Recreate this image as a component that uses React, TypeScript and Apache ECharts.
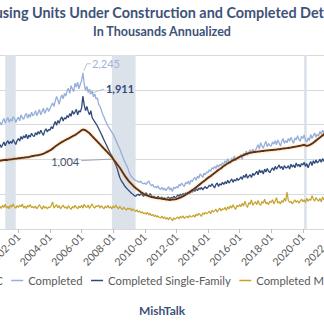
import React, { useEffect, useRef } from 'react';
import * as echarts from 'echarts';

// Monthly categories 2000-01 .. 2022-12
const categories: string[] = [];
for (let y = 2000; y <= 2022; y++) {
  for (let m = 1; m <= 12; m++) categories.push(`${y}-${m < 10 ? '0' + m : m}`);
}

// Values in thousands, annualized, monthly from 2000-01
const underConstruction = [
  960, 962, 965, 963, 968, 970, 972, 975, 973, 978, 980, 985,
  988, 990, 992, 995, 993, 998, 1000, 1003, 1005, 1008, 1010, 1012,
  1015, 1018, 1020, 1022, 1025, 1028, 1030, 1032, 1035, 1040, 1045, 1050,
  1052, 1055, 1058, 1060, 1065, 1070, 1075, 1082, 1090, 1100, 1110, 1120,
  1130, 1140, 1155, 1170, 1185, 1200, 1212, 1225, 1238, 1250, 1260, 1270,
  1280, 1290, 1300, 1310, 1320, 1330, 1340, 1350, 1362, 1375, 1390, 1405,
  1420, 1428, 1425, 1418, 1405, 1390, 1375, 1355, 1335, 1315, 1295, 1275,
  1255, 1235, 1215, 1195, 1175, 1155, 1135, 1115, 1095, 1075, 1055, 1035,
  1004, 980, 955, 930, 905, 880, 850, 820, 790, 760, 735, 710,
  685, 665, 645, 625, 605, 590, 575, 560, 545, 530, 518, 505,
  495, 488, 480, 472, 465, 460, 455, 452, 448, 445, 442, 440,
  438, 435, 432, 430, 425, 422, 420, 418, 420, 422, 425, 428,
  432, 438, 445, 452, 460, 470, 480, 492, 505, 518, 530, 545,
  558, 570, 585, 600, 615, 630, 645, 660, 675, 690, 705, 720,
  735, 748, 760, 775, 790, 805, 820, 835, 850, 862, 875, 890,
  905, 918, 930, 942, 955, 965, 975, 985, 995, 1005, 1015, 1025,
  1035, 1045, 1055, 1062, 1070, 1078, 1085, 1090, 1095, 1100, 1103, 1106,
  1108, 1110, 1112, 1115, 1118, 1120, 1122, 1125, 1127, 1128, 1130, 1132,
  1134, 1136, 1138, 1140, 1142, 1145, 1147, 1150, 1152, 1155, 1158, 1160,
  1162, 1165, 1168, 1170, 1175, 1178, 1180, 1185, 1188, 1192, 1195, 1200,
  1205, 1210, 1200, 1195, 1198, 1205, 1215, 1225, 1240, 1255, 1270, 1285,
  1300, 1315, 1330, 1345, 1360, 1375,
];

const completed = [
  1580, 1612, 1545, 1570, 1598, 1552, 1530, 1575, 1560, 1510, 1538, 1495,
  1545, 1590, 1520, 1568, 1602, 1535, 1580, 1548, 1612, 1590, 1530, 1575,
  1610, 1555, 1640, 1598, 1575, 1630, 1662, 1590, 1648, 1605, 1680, 1625,
  1650, 1700, 1628, 1672, 1715, 1640, 1690, 1735, 1660, 1705, 1742, 1688,
  1730, 1775, 1812, 1760, 1840, 1905, 1850, 1790, 1880, 1925, 1870, 1950,
  1910, 1985, 2020, 1950, 2060, 2010, 1975, 2095, 2040, 2110, 2015, 2080,
  2130, 2245, 2080, 1990, 2050, 1960, 2010, 1940, 1985, 1900, 1940, 1870,
  1880, 1790, 1760, 1705, 1650, 1610, 1560, 1520, 1480, 1450, 1420, 1390,
  1360, 1320, 1280, 1230, 1190, 1150, 1100, 1050, 1000, 960, 920, 880,
  820, 780, 750, 730, 710, 700, 690, 680, 670, 690, 660, 650,
  660, 640, 670, 690, 650, 620, 640, 600, 610, 590, 620, 580,
  570, 600, 560, 590, 550, 575, 610, 560, 590, 540, 600, 580,
  610, 590, 640, 620, 660, 630, 610, 670, 650, 690, 640, 700,
  680, 720, 740, 700, 760, 730, 790, 770, 740, 800, 780, 820,
  810, 850, 830, 880, 860, 900, 870, 920, 890, 930, 910, 950,
  930, 980, 950, 1010, 960, 940, 1020, 990, 1050, 980, 1010, 1040,
  1020, 1070, 1000, 1090, 1050, 1120, 1060, 1100, 1140, 1080, 1150, 1110,
  1130, 1170, 1210, 1150, 1240, 1190, 1160, 1220, 1260, 1180, 1230, 1200,
  1190, 1250, 1220, 1270, 1210, 1280, 1240, 1190, 1260, 1300, 1230, 1270,
  1240, 1300, 1260, 1320, 1270, 1230, 1310, 1280, 1340, 1290, 1260, 1330,
  1300, 1350, 1280, 1250, 1310, 1270, 1360, 1300, 1340, 1380, 1320, 1360,
  1340, 1400, 1360, 1420, 1380, 1440,
];

const completedSingleFamily = [
  1240, 1275, 1220, 1260, 1230, 1210, 1250, 1195, 1230, 1180, 1215, 1170,
  1210, 1250, 1195, 1240, 1270, 1220, 1260, 1230, 1285, 1250, 1215, 1270,
  1300, 1265, 1330, 1290, 1340, 1310, 1360, 1295, 1350, 1320, 1375, 1340,
  1330, 1385, 1350, 1400, 1365, 1420, 1380, 1345, 1410, 1440, 1395, 1430,
  1420, 1470, 1440, 1500, 1545, 1490, 1560, 1520, 1580, 1610, 1550, 1600,
  1580, 1630, 1600, 1660, 1620, 1700, 1650, 1680, 1720, 1640, 1700, 1680,
  1740, 1911, 1780, 1700, 1760, 1690, 1640, 1700, 1600, 1570, 1540, 1510,
  1480, 1440, 1400, 1360, 1320, 1280, 1240, 1200, 1160, 1120, 1080, 1050,
  1010, 960, 920, 870, 800, 740, 700, 670, 640, 610, 590, 570,
  550, 530, 510, 500, 480, 470, 490, 500, 480, 510, 490, 470,
  500, 520, 490, 470, 510, 480, 460, 470, 450, 440, 470, 450,
  440, 460, 430, 450, 420, 445, 460, 430, 455, 440, 470, 450,
  460, 490, 470, 500, 480, 510, 490, 520, 500, 530, 510, 540,
  530, 560, 540, 580, 550, 590, 570, 600, 560, 590, 610, 580,
  600, 630, 610, 650, 620, 590, 640, 660, 610, 650, 630, 670,
  640, 680, 650, 700, 660, 690, 720, 670, 710, 690, 730, 700,
  720, 750, 710, 770, 740, 790, 730, 760, 780, 740, 800, 770,
  800, 830, 780, 850, 810, 840, 790, 860, 820, 870, 830, 810,
  850, 880, 840, 900, 860, 890, 920, 870, 900, 850, 910, 880,
  880, 910, 860, 930, 890, 920, 880, 950, 900, 930, 890, 940,
  920, 960, 900, 940, 880, 930, 970, 910, 980, 940, 990, 950,
  970, 1000, 960, 1010, 980, 950,
];

const completedMultiFamily = [
  330, 300, 345, 310, 290, 335, 320, 280, 340, 305, 325, 295,
  340, 310, 355, 300, 325, 290, 345, 315, 360, 320, 300, 335,
  310, 345, 320, 360, 300, 330, 295, 340, 315, 350, 305, 325,
  300, 330, 290, 320, 350, 310, 285, 335, 300, 320, 290, 315,
  310, 340, 390, 300, 325, 350, 305, 335, 290, 320, 345, 300,
  320, 290, 335, 305, 280, 325, 300, 340, 310, 290, 330, 305,
  340, 300, 355, 320, 310, 345, 295, 330, 360, 315, 300, 335,
  320, 345, 300, 335, 310, 290, 330, 305, 340, 300, 320, 290,
  330, 305, 345, 310, 290, 325, 300, 280, 315, 290, 270, 300,
  285, 300, 260, 290, 270, 250, 275, 240, 260, 230, 250, 220,
  235, 210, 240, 200, 225, 190, 210, 180, 200, 170, 190, 165,
  160, 185, 150, 175, 140, 165, 130, 170, 150, 120, 160, 140,
  155, 175, 145, 180, 160, 190, 150, 170, 185, 160, 195, 175,
  180, 200, 170, 215, 190, 225, 205, 180, 230, 210, 240, 220,
  235, 255, 220, 270, 245, 260, 285, 240, 275, 300, 260, 290,
  280, 310, 270, 320, 290, 335, 300, 350, 310, 280, 340, 320,
  350, 320, 370, 330, 400, 345, 310, 380, 355, 420, 340, 370,
  390, 350, 410, 360, 340, 395, 370, 430, 360, 385, 350, 400,
  380, 420, 360, 400, 450, 370, 395, 360, 410, 380, 440, 400,
  530, 410, 380, 400, 360, 390, 420, 380, 410, 370, 400, 430,
  390, 420, 380, 440, 400, 430, 410, 480, 430, 400, 450, 420,
  400, 440, 390, 460, 420, 410,
];

const recessions: [string, string][] = [
  ['2001-03', '2001-11'],
  ['2007-12', '2009-06'],
  ['2020-02', '2020-04'],
];

const seriesNames = ['Total UC', 'Completed', 'Completed Single-Family', 'Completed Multi-Family'];
const titleText = 'Housing Units Under Construction and Completed Detail';
const subtitleText = 'In Thousands Annualized';
const sourceText = 'MishTalk';

const COLORS = {
  uc: '#5A3116',
  completed: '#95AEDA',
  sf: '#2F4A7A',
  mf: '#C6A22C',
  title: '#3E5279',
  axis: '#595959',
  grid: '#D9D9D9',
  shade: '#DCE2EA',
};

const FONT = 'Lato, "Open Sans", sans-serif';

const showLabel = (_i: number, v: string) => v.endsWith('-01') && parseInt(v, 10) % 2 === 0;

const measure = (t: string, font: string) => {
  const ctx = document.createElement('canvas').getContext('2d');
  if (!ctx) return t.length * 6;
  ctx.font = font;
  return ctx.measureText(t).width;
};

export default function App() {
  const ref = useRef<HTMLDivElement>(null);
  useEffect(() => {
    if (!ref.current) return;
    const chart = echarts.init(ref.current, undefined, { renderer: 'svg' });
    const option: any = {
      animation: false,
      backgroundColor: '#ffffff',
      title: [
        { text: titleText, left: 157, textAlign: 'center', top: 5.5, padding: 0,
          textStyle: { fontFamily: FONT, fontWeight: 'bold', fontSize: 14.4, color: COLORS.title } },
        { text: subtitleText, left: 'center', top: 25, padding: 0,
          textStyle: { fontFamily: FONT, fontWeight: 'bold', fontSize: 12.5, color: COLORS.title } },
        { text: sourceText, left: 'center', top: 304, padding: 0,
          textStyle: { fontFamily: FONT, fontWeight: 'bold', fontSize: 12, color: COLORS.title } },
      ],
      legend: {
        data: seriesNames,
        left: -57,
        top: 275,
        width: 800,
        padding: 0,
        itemWidth: 12,
        itemHeight: 1.5,
        itemGap: 8.5,
        icon: 'rect',
        textStyle: { fontFamily: FONT, fontSize: 11.3, color: COLORS.axis },
      },
      grid: { left: -13.2, right: -24.9, top: 55, bottom: 93, containLabel: false, outerBoundsMode: 'none' },
      xAxis: {
        type: 'category',
        data: categories,
        boundaryGap: false,
        axisLine: { show: true, lineStyle: { color: COLORS.grid } },
        axisTick: { show: true, interval: showLabel, length: 4, lineStyle: { color: '#BFBFBF' } },
        axisLabel: { interval: showLabel, rotate: 45, fontFamily: FONT, fontSize: 10.5, color: COLORS.axis, margin: 6 },
        splitLine: { show: false },
      },
      yAxis: {
        type: 'value',
        min: 0,
        max: 2500,
        interval: 500,
        axisLine: { show: false },
        axisTick: { show: false },
        axisLabel: { show: false },
        splitLine: { lineStyle: { color: COLORS.grid, width: 1 } },
      },
      series: [
        {
          name: 'recessions', type: 'line', data: [], z: 1, silent: true,
          markArea: {
            silent: true,
            itemStyle: { color: COLORS.shade },
            data: recessions.map(([a, b]) => [{ xAxis: a }, { xAxis: b }]),
          },
        },
        {
          name: seriesNames[3], type: 'line', data: completedMultiFamily, showSymbol: false, z: 3,
          lineStyle: { color: COLORS.mf, width: 1.2 }, itemStyle: { color: COLORS.mf },
        },
        {
          name: seriesNames[1], type: 'line', data: completed, showSymbol: false, z: 3,
          lineStyle: { color: COLORS.completed, width: 1.3 }, itemStyle: { color: COLORS.completed },
        },
        {
          name: seriesNames[2], type: 'line', data: completedSingleFamily, showSymbol: false, z: 4,
          lineStyle: { color: COLORS.sf, width: 1.3 }, itemStyle: { color: COLORS.sf },
        },
        {
          name: seriesNames[0], type: 'line', data: underConstruction, showSymbol: false, z: 5,
          lineStyle: { color: COLORS.uc, width: 2, shadowColor: 'rgba(250,180,110,0.7)', shadowBlur: 2 },
          itemStyle: { color: COLORS.uc },
        },
      ],
    };
    chart.setOption(option);

    const fmt = (v: number) => v.toLocaleString('en-US');
    const pt = (month: string, arr: number[]) => {
      const i = categories.indexOf(month);
      return { p: chart.convertToPixel({ gridIndex: 0 }, [i, arr[i]]) as number[], v: arr[i] };
    };
    const a1 = pt('2006-02', completed);
    const a2 = pt('2006-02', completedSingleFamily);
    const a3 = pt('2008-01', underConstruction);
    const txt = (x: number, y: number, t: string, color: string, weight = 'normal') => ({
      type: 'text', x, y, z: 20,
      style: { text: t, fill: color, font: `${weight} 11px ${FONT}`, verticalAlign: 'middle' },
    });
    const leader = (pts: number[][], color: string) => ({
      type: 'polyline', z: 19, shape: { points: pts }, style: { stroke: color, lineWidth: 0.8, fill: 'none' },
    });
    const t3 = fmt(a3.v);
    const w3 = measure(t3, `normal 11px ${FONT}`);
    chart.setOption({
      graphic: [
        leader([[a1.p[0] + 1, a1.p[1] - 2], [a1.p[0] + 4, a1.p[1] - 9], [a1.p[0] + 8, a1.p[1] - 9]], '#9FB4D6'),
        txt(a1.p[0] + 9, a1.p[1] - 9, fmt(a1.v), '#9FB4D6'),
        leader([[a2.p[0] + 6, a2.p[1] - 2], [a2.p[0] + 21, a2.p[1] - 7]], '#9FB4D6'),
        txt(a2.p[0] + 23, a2.p[1] - 7, fmt(a2.v), COLORS.sf, 'bold'),
        leader([[a3.p[0] - 2, a3.p[1]], [a3.p[0] - 32, a3.p[1] + 1.5]], '#8C9BB5'),
        txt(a3.p[0] - 34 - w3, a3.p[1] + 2, t3, '#44546A'),
      ],
    });
    return () => chart.dispose();
  }, []);
  return <div ref={ref} style={{ position: 'fixed', left: 0, top: 0, width: 324, height: 322 }} />;
}
